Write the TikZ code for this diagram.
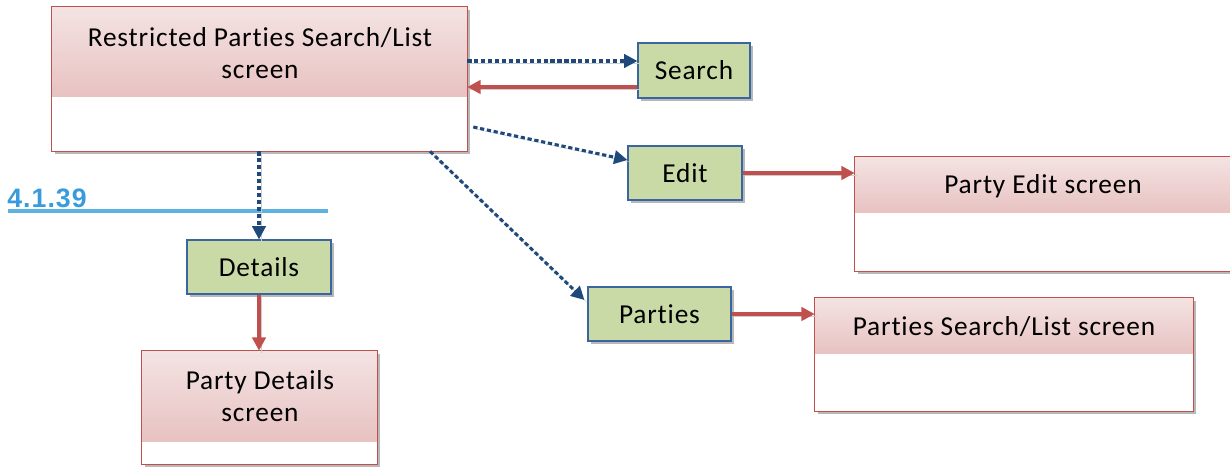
\documentclass[tikz,border=0pt]{standalone}
\usepackage{fontspec}
\setmainfont{Carlito}[LetterSpace=3,RawFeature={-liga;-dlig}]
\newfontfamily\headfont{Liberation Sans}[LetterSpace=4]
\usetikzlibrary{arrows.meta,calc,fit,shadows}
\definecolor{pinkTop}{HTML}{F4E3E3}
\definecolor{pinkBot}{HTML}{E7C2C1}
\definecolor{redBorder}{HTML}{C0504D}
\definecolor{greenFill}{HTML}{CADAA6}
\definecolor{greenBorder}{HTML}{3A65A0}
\definecolor{arrowBlue}{HTML}{1F497D}
\definecolor{arrowRed}{HTML}{C0504D}
\definecolor{headBlue}{HTML}{3A9BDC}
\definecolor{lineBlue}{HTML}{5DB2E2}
\definecolor{shadowGray}{HTML}{9A9A9A}
\tikzset{
  screenbox/.style={inner sep=0pt, fill=white, drop shadow={shadow xshift=2.5pt, shadow yshift=-2.5pt, fill=shadowGray, opacity=0.7}},
  screenedge/.style={draw=redBorder, line width=0.8pt},
  header/.style={top color=pinkTop, bottom color=pinkBot},
  actbox/.style={inner sep=0pt, draw=greenBorder, line width=0.8pt, fill=greenFill, drop shadow={shadow xshift=2.5pt, shadow yshift=-2.5pt, fill=shadowGray, opacity=0.7}},
  label/.style={font=\fontsize{20.5}{23.5}\selectfont, align=center, text=black},
  lineshadow/.style={preaction={draw=shadowGray!50, -, transform canvas={shift={(1.5pt,-1.5pt)}}}},
  dotarrow/.style={lineshadow, draw=arrowBlue, line width=2.3pt, dash pattern=on 3.2pt off 2pt, -{Triangle[length=10pt,width=10pt,fill=arrowBlue]}},
  redarrow/.style={lineshadow, draw=arrowRed, line width=2.6pt, -{Triangle[length=10pt,width=10pt,fill=arrowRed]}},
}
\begin{document}
\begin{tikzpicture}[x=0.75pt,y=-0.75pt]
\useasboundingbox (0,0) rectangle (1230,469);

% --- screens ---
\node[screenbox, fit={(52,7) (467,151)}] (main) {};
\fill[header] (main.north west) rectangle ($(main.north east)+(0,90)$);
\draw[screenedge] (main.north west) rectangle (main.south east);
\node[label] (mainlbl) at (260,53) {Restricted Parties Search/List\\screen};

\node[screenbox, fit={(855,157) (1230,271)}] (pedit) {};
\fill[header] (pedit.north west) rectangle ($(pedit.north east)+(0,56)$);
\draw[screenedge] (pedit.north west) rectangle (pedit.south east);
\node[label] (peditlbl) at (1043,186) {Party Edit screen};

\node[screenbox, fit={(815,298) (1193,411)}] (psearch) {};
\fill[header] (psearch.north west) rectangle ($(psearch.north east)+(0,56)$);
\draw[screenedge] (psearch.north west) rectangle (psearch.south east);
\node[label] (psearchlbl) at (1004,327) {Parties Search/List screen};

\node[screenbox, fit={(142,351) (377,464)}] (pdet) {};
\fill[header] (pdet.north west) rectangle ($(pdet.north east)+(0,91)$);
\draw[screenedge] (pdet.north west) rectangle (pdet.south east);
\node[label] (pdetlbl) at (260,396) {Party Details\\screen};

% --- action boxes ---
\node[actbox, fit={(638,43) (750,98)}] (search) {};
\node[label] at (search.center) {Search};
\node[actbox, fit={(628,146) (742,200)}] (edit) {};
\node[label] at (edit.center) {Edit};
\node[actbox, fit={(187,240) (331,294)}] (details) {};
\node[label] at (details.center) {Details};
\node[actbox, fit={(588,287) (731,341)}] (parties) {};
\node[label] at (parties.center) {Parties};

% --- heading ---
\node[anchor=south west, inner sep=0pt, text=headBlue, font=\headfont\bfseries\fontsize{20}{22}\selectfont] (head) at (7,208) {4.1.39};
\draw[lineBlue, line width=3pt] (8,211) -- (328,211);

% --- connectors ---
\draw[dotarrow] ($(main.east)+(0,-18)$) -- ($(search.west)+(0,-9.5)$);
\draw[redarrow] ($(search.west)+(0,16.5)$) -- ($(main.east)+(0,8)$);
\draw[dotarrow] ($(main.east)+(6,48)$) -- ($(edit.west)+(0,-13)$);
\draw[dotarrow] (main.south -| details.north) -- (details.north);
\draw[dotarrow] ($(main.south)+(170.5,0)$) -- ($(parties.west)+(-3,-14)$);
\draw[redarrow] (edit.east) -- (edit.east -| pedit.west);
\draw[redarrow] (details.south) -- (details.south |- pdet.north);
\draw[redarrow] (parties.east) -- (parties.east -| psearch.west);
\end{tikzpicture}
\end{document}
